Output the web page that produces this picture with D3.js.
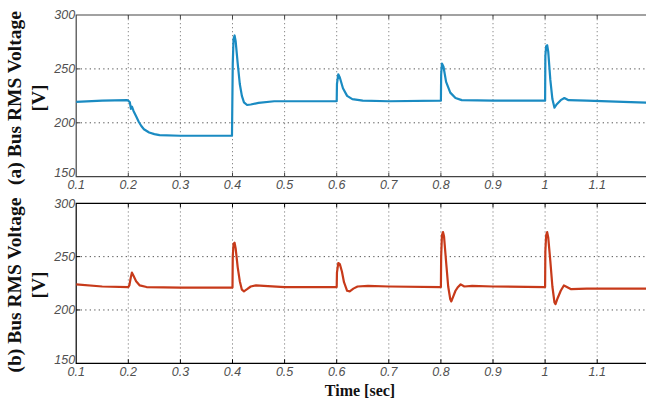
<!DOCTYPE html>
<html>
<head>
<meta charset="utf-8">
<script src="https://cdnjs.cloudflare.com/ajax/libs/d3/7.8.5/d3.min.js"></script>
<style>
  body { margin: 0; background: #fff; }
  svg { display: block; }
</style>
</head>
<body>
<div id="chart"></div>
<script>
// time ticks and voltage ticks
const xTicks = [0.1, 0.2, 0.3, 0.4, 0.5, 0.6, 0.7, 0.8, 0.9, 1, 1.1];
const yTicks = [150, 200, 250, 300];

// (a) bus RMS voltage
const timeA = [0.100, 0.150, 0.198, 0.200, 0.203, 0.205, 0.207, 0.210, 0.215, 0.220, 0.225, 0.230, 0.240, 0.250, 0.260, 0.300, 0.399,
  0.4005, 0.402, 0.404, 0.406, 0.410, 0.414, 0.418, 0.422, 0.428, 0.435, 0.450, 0.480, 0.600,
  0.6005, 0.603, 0.606, 0.612, 0.620, 0.630, 0.650, 0.700, 0.800,
  0.8005, 0.802, 0.805, 0.810, 0.818, 0.828, 0.840, 0.900, 1.000,
  1.0005, 1.002, 1.004, 1.006, 1.010, 1.014, 1.018, 1.022, 1.030, 1.037, 1.045, 1.080, 1.150, 1.200];
const voltA = [219.5, 220.5, 221, 220.5, 219, 213, 215, 211, 206, 201, 197, 194, 191, 189.5, 188.5, 188, 188,
  255, 278, 281, 276, 255, 236, 225, 219, 216.5, 217, 218.5, 220, 220,
  236, 245, 242, 232, 225, 222, 220.5, 220, 220.5,
  245, 255, 252, 238, 228, 223, 221, 220.5, 220.5,
  262, 271, 272, 266, 240, 222, 214, 217, 221, 223, 221, 220.5, 219.5, 218.5];

// (b) bus RMS voltage
const timeB = [0.100, 0.150, 0.200, 0.202, 0.205, 0.207, 0.210, 0.215, 0.222, 0.235, 0.300, 0.400,
  0.4005, 0.402, 0.404, 0.406, 0.410, 0.414, 0.418, 0.422, 0.428, 0.435, 0.445, 0.460, 0.500, 0.600,
  0.6005, 0.603, 0.606, 0.610, 0.614, 0.620, 0.625, 0.632, 0.640, 0.660, 0.700, 0.800,
  0.8005, 0.802, 0.804, 0.806, 0.810, 0.814, 0.818, 0.820, 0.824, 0.828, 0.832, 0.838, 0.845, 0.860, 0.900, 1.000,
  1.0005, 1.002, 1.004, 1.006, 1.010, 1.014, 1.018, 1.020, 1.024, 1.030, 1.036, 1.040, 1.050, 1.080, 1.200];
const voltB = [224, 222, 221.5, 223, 231, 235, 232, 227, 223, 221.5, 221, 221,
  250, 262, 263, 258, 240, 227, 219, 217.5, 219.5, 222, 223, 222.5, 221.5, 221.5,
  235, 244, 243, 236, 226, 218, 217.5, 220, 222, 222.5, 222, 221.5,
  250, 270, 273, 269, 245, 222, 210, 208, 213, 218, 221, 224, 222, 222.5, 222, 221.5,
  255, 270, 273, 268, 246, 222, 207, 205.5, 211, 218, 223, 222, 219.5, 220, 220];

class PanelVis {

    constructor(_svg, _opts) {
        this.svg = _svg;
        this.opts = _opts;
        this.initVis();
    }

    initVis() {
        let vis = this;
        let o = vis.opts;

        vis.x = d3.scaleLinear().domain([0.1, 1.2]).range([76.2, 649.3]);
        vis.y = d3.scaleLinear().domain([150, 300]).range([o.bottom, o.top]);

        vis.g = vis.svg.append("g");

        // dotted grid
        vis.g.append("g")
            .attr("stroke", "#8a8a8a")
            .attr("stroke-width", 1)
            .attr("stroke-dasharray", "1.3,2.7")
            .selectAll("line")
            .data(xTicks.slice(1))
            .join("line")
            .attr("x1", d => vis.x(d)).attr("x2", d => vis.x(d))
            .attr("y1", o.top).attr("y2", o.bottom);

        vis.g.append("g")
            .attr("stroke", "#555")
            .attr("stroke-width", 1)
            .attr("stroke-dasharray", "1.3,3.2")
            .selectAll("line")
            .data([200, 250])
            .join("line")
            .attr("x1", vis.x(0.1)).attr("x2", 646)
            .attr("y1", d => vis.y(d)).attr("y2", d => vis.y(d));

        // small inward ticks
        vis.g.append("g")
            .attr("stroke", o.frame)
            .selectAll("line")
            .data(xTicks.slice(1))
            .join("line")
            .attr("x1", d => vis.x(d)).attr("x2", d => vis.x(d))
            .attr("y1", o.bottom).attr("y2", o.bottom - 4);
        vis.g.append("g")
            .attr("stroke", o.frame)
            .selectAll("line")
            .data(xTicks.slice(1))
            .join("line")
            .attr("x1", d => vis.x(d)).attr("x2", d => vis.x(d))
            .attr("y1", o.top).attr("y2", o.top + 4);
        vis.g.append("g")
            .attr("stroke", o.frame)
            .selectAll("line")
            .data([200, 250])
            .join("line")
            .attr("x1", vis.x(0.1)).attr("x2", vis.x(0.1) + 4)
            .attr("y1", d => vis.y(d)).attr("y2", d => vis.y(d));

        // frame: left, top, bottom
        vis.g.append("path")
            .attr("fill", "none")
            .attr("stroke", o.frame)
            .attr("stroke-width", 1.2)
            .attr("d", `M646,${o.top}H${vis.x(0.1)}V${o.bottom}H646`);

        // tick labels
        vis.g.append("g")
            .attr("font-family", "Liberation Sans, Arial, sans-serif")
            .attr("font-style", "italic")
            .attr("font-size", 12.5)
            .attr("fill", "#505050")
            .selectAll("text")
            .data(yTicks)
            .join("text")
            .attr("x", vis.x(0.1) - 1)
            .attr("y", d => vis.y(d))
            .attr("dy", d => d === 150 ? "0.05em" : "0.35em")
            .attr("text-anchor", "end")
            .text(d => d);

        vis.g.append("g")
            .attr("font-family", "Liberation Sans, Arial, sans-serif")
            .attr("font-style", "italic")
            .attr("font-size", 12.5)
            .attr("fill", "#505050")
            .selectAll("text")
            .data(xTicks)
            .join("text")
            .attr("x", d => vis.x(d))
            .attr("y", o.bottom + o.tickGap)
            .attr("text-anchor", "middle")
            .text(d => d);

        // y title, two lines
        let cy = o.titleY;
        vis.g.append("text")
            .attr("transform", `translate(21,${cy}) rotate(-90)`)
            .attr("text-anchor", "middle")
            .attr("font-family", "Liberation Serif, Times New Roman, serif")
            .attr("font-weight", "bold")
            .attr("font-size", 19.5)
            .attr("fill", "#111")
            .text(o.label);
        vis.g.append("text")
            .attr("transform", `translate(45,${cy}) rotate(-90)`)
            .attr("text-anchor", "middle")
            .attr("font-family", "Liberation Serif, Times New Roman, serif")
            .attr("font-weight", "bold")
            .attr("font-size", 19.5)
            .attr("fill", "#111")
            .text("[V]");

        vis.updateVis();
    }

    updateVis() {
        let vis = this;
        let o = vis.opts;
        let pts = o.time.map((t, i) => [t, o.volt[i]]);

        vis.g.append("path")
            .datum(pts)
            .attr("fill", "none")
            .attr("stroke", o.color)
            .attr("stroke-width", 2.2)
            .attr("stroke-linejoin", "round")
            .attr("d", d3.line()
                .x(d => vis.x(d[0]))
                .y(d => vis.y(d[1])));
    }
}

const svg = d3.select("#chart").append("svg")
    .attr("width", 646)
    .attr("height", 403);

new PanelVis(svg, {top: 15, bottom: 176.7, time: timeA, volt: voltA, tickGap: 12, titleY: 98,
    color: "#1a8bc2", frame: "#444", label: "(a) Bus RMS Voltage"});
new PanelVis(svg, {top: 203.3, bottom: 363.3, time: timeB, volt: voltB, tickGap: 13, titleY: 285,
    color: "#c73a1a", frame: "#000", label: "(b) Bus RMS Voltage"});

svg.append("text")
    .attr("x", 360)
    .attr("y", 396)
    .attr("text-anchor", "middle")
    .attr("font-family", "Liberation Serif, Times New Roman, serif")
    .attr("font-weight", "bold")
    .attr("font-size", 16)
    .attr("fill", "#111")
    .text("Time [sec]");
</script>
</body>
</html>
